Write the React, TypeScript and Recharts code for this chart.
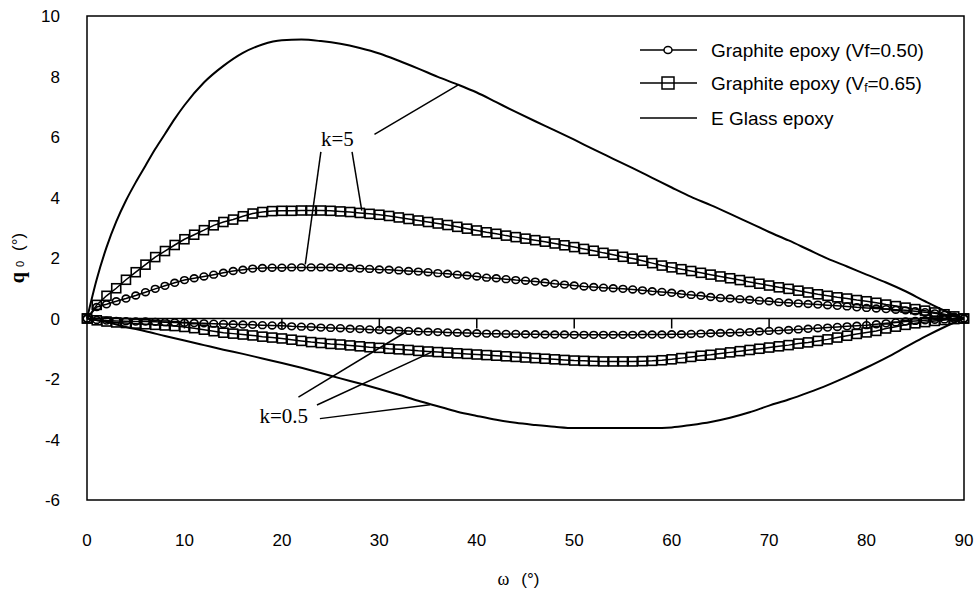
import React from 'react';
import {
  LineChart,
  Line,
  XAxis,
  YAxis,
  ReferenceLine,
  ReferenceArea,
  ReferenceDot,
  Legend
} from 'recharts';

// ω in degrees, one marker per degree for the graphite curves
const omega = Array.from({ length: 91 }, (_, i) => i);

// Graphite epoxy (Vf=0.50), k=5 and k=0.5
const gp50K5 = [
  0.0, 0.38, 0.47, 0.57, 0.66, 0.76, 0.87, 0.98, 1.08, 1.18,
  1.27, 1.33, 1.39, 1.45, 1.51, 1.57, 1.61, 1.65, 1.67, 1.68,
  1.68, 1.69, 1.69, 1.69, 1.69, 1.69, 1.68, 1.67, 1.65, 1.64,
  1.62, 1.61, 1.59, 1.57, 1.55, 1.53, 1.50, 1.48, 1.45, 1.42,
  1.39, 1.35, 1.33, 1.30, 1.27, 1.25, 1.22, 1.19, 1.15, 1.12,
  1.09, 1.06, 1.04, 1.02, 1.00, 0.98, 0.96, 0.93, 0.90, 0.88,
  0.85, 0.81, 0.78, 0.75, 0.71, 0.68, 0.66, 0.64, 0.62, 0.59,
  0.57, 0.54, 0.52, 0.50, 0.48, 0.46, 0.44, 0.42, 0.40, 0.37,
  0.35, 0.33, 0.31, 0.29, 0.27, 0.24, 0.21, 0.17, 0.12, 0.06,
  0.0
];
const gp50K05 = [
  0.0, -0.05, -0.07, -0.08, -0.09, -0.10, -0.10, -0.11, -0.12, -0.13,
  -0.14, -0.15, -0.16, -0.17, -0.18, -0.19, -0.20, -0.21, -0.22, -0.23,
  -0.24, -0.26, -0.27, -0.28, -0.30, -0.31, -0.32, -0.34, -0.35, -0.36,
  -0.38, -0.39, -0.40, -0.41, -0.43, -0.44, -0.45, -0.46, -0.47, -0.48,
  -0.49, -0.50, -0.50, -0.51, -0.51, -0.52, -0.52, -0.53, -0.53, -0.53,
  -0.54, -0.54, -0.54, -0.54, -0.54, -0.54, -0.54, -0.53, -0.53, -0.53,
  -0.52, -0.52, -0.51, -0.50, -0.49, -0.48, -0.47, -0.46, -0.45, -0.43,
  -0.41, -0.40, -0.38, -0.36, -0.34, -0.32, -0.30, -0.28, -0.26, -0.24,
  -0.22, -0.19, -0.16, -0.13, -0.10, -0.08, -0.06, -0.04, -0.03, -0.01,
  0.0
];

// Graphite epoxy (Vf=0.65), k=5 and k=0.5
const gp65K5 = [
  0.0, 0.45, 0.75, 1.00, 1.28, 1.53, 1.78, 2.03, 2.23, 2.43,
  2.62, 2.77, 2.92, 3.08, 3.19, 3.27, 3.38, 3.47, 3.52, 3.55,
  3.56, 3.56, 3.57, 3.57, 3.57, 3.56, 3.54, 3.52, 3.49, 3.46,
  3.43, 3.39, 3.34, 3.29, 3.24, 3.19, 3.14, 3.09, 3.03, 2.97,
  2.91, 2.85, 2.80, 2.74, 2.69, 2.64, 2.59, 2.54, 2.48, 2.42,
  2.36, 2.30, 2.24, 2.17, 2.11, 2.04, 1.98, 1.91, 1.83, 1.75,
  1.69, 1.63, 1.57, 1.51, 1.45, 1.39, 1.33, 1.27, 1.21, 1.15,
  1.09, 1.03, 0.98, 0.92, 0.86, 0.80, 0.75, 0.70, 0.66, 0.61,
  0.57, 0.52, 0.46, 0.41, 0.36, 0.31, 0.26, 0.20, 0.14, 0.07,
  0.0
];
const gp65K05 = [
  0.0, -0.06, -0.10, -0.13, -0.15, -0.17, -0.19, -0.21, -0.23, -0.25,
  -0.28, -0.32, -0.37, -0.42, -0.47, -0.50, -0.53, -0.56, -0.60, -0.63,
  -0.66, -0.70, -0.74, -0.78, -0.81, -0.84, -0.86, -0.89, -0.92, -0.95,
  -0.97, -1.00, -1.02, -1.04, -1.07, -1.09, -1.11, -1.13, -1.15, -1.17,
  -1.19, -1.21, -1.23, -1.25, -1.27, -1.29, -1.31, -1.33, -1.35, -1.37,
  -1.39, -1.40, -1.41, -1.42, -1.42, -1.42, -1.42, -1.41, -1.40, -1.38,
  -1.35, -1.31, -1.27, -1.23, -1.20, -1.16, -1.12, -1.08, -1.04, -1.00,
  -0.96, -0.92, -0.88, -0.83, -0.79, -0.74, -0.69, -0.63, -0.57, -0.51,
  -0.46, -0.41, -0.33, -0.27, -0.21, -0.16, -0.12, -0.08, -0.05, -0.02,
  0.0
];

// E Glass epoxy, plain line
const glassK5X = [0, 1, 2, 3, 4, 5, 6, 7, 8, 9, 10, 12, 14, 16, 18, 20, 22, 24, 26, 28, 30, 32, 34, 36, 38, 40, 42, 44, 46, 48, 50, 52, 54, 56, 58, 60, 62, 64, 66, 68, 70, 72, 74, 76, 78, 80, 82, 84, 86, 88, 90];
const glassK5 = [0, 1.3, 2.35, 3.2, 3.9, 4.5, 5.05, 5.6, 6.1, 6.6, 7.05, 7.8, 8.35, 8.78, 9.06, 9.2, 9.22, 9.17, 9.08, 8.94, 8.76, 8.52, 8.26, 7.99, 7.74, 7.47, 7.15, 6.83, 6.52, 6.22, 5.91, 5.59, 5.28, 4.97, 4.65, 4.33, 4.02, 3.75, 3.46, 3.16, 2.86, 2.58, 2.28, 1.98, 1.72, 1.45, 1.19, 0.9, 0.57, 0.26, 0];
const glassK05X = [0, 2, 4, 6, 8, 10, 12, 14, 16, 18, 20, 22, 24, 26, 28, 30, 32, 34, 36, 38, 40, 42, 44, 46, 48, 50, 52, 54, 56, 58, 60, 62, 64, 66, 68, 70, 72, 74, 76, 78, 80, 82, 84, 86, 88, 90];
const glassK05 = [0, -0.12, -0.28, -0.42, -0.58, -0.73, -0.88, -1.03, -1.17, -1.32, -1.47, -1.63, -1.8, -1.98, -2.15, -2.33, -2.52, -2.72, -2.9, -3.08, -3.22, -3.35, -3.45, -3.52, -3.58, -3.62, -3.62, -3.62, -3.62, -3.62, -3.6, -3.52, -3.42, -3.28, -3.1, -2.88, -2.68, -2.45, -2.2, -1.92, -1.62, -1.3, -0.95, -0.6, -0.28, 0];

const xTicks = [0, 10, 20, 30, 40, 50, 60, 70, 80, 90];
const yTicks = [-6, -4, -2, 0, 2, 4, 6, 8, 10];
const zeroTicks = [10, 20, 30, 40, 50, 60, 70, 80];

// annotation leaders: [label x, label y, curve x, curve y]
const k5Leaders = [
  [29.5, 6.09, 38.1, 7.72],
  [24.0, 5.51, 22.4, 1.79],
  [27.2, 5.51, 28.2, 3.57]
];
const k05Leaders = [
  [21.7, -2.6, 32.8, -0.43],
  [23.6, -2.86, 35.3, -1.12],
  [23.9, -3.31, 35.2, -2.85]
];

const toPoints = (xs: number[], ys: number[]) => xs.map((x, i) => ({ x, y: ys[i] }));

const SANS = 'Liberation Sans, Arial, sans-serif';
const SERIF = 'Liberation Serif, Times New Roman, serif';

const CircleDot = (props: any) => {
  const { cx, cy, index } = props;
  if (cx == null || cy == null) return <g key={index} />;
  return <ellipse key={index} cx={cx} cy={cy} rx={3.8} ry={3.4} fill="none" stroke="#000" strokeWidth={1.6} />;
};

const SquareDot = (props: any) => {
  const { cx, cy, index } = props;
  if (cx == null || cy == null) return <g key={index} />;
  return <rect key={index} x={cx - 4.5} y={cy - 4.5} width={9} height={9} fill="none" stroke="#000" strokeWidth={1.6} />;
};

const LegendBox = () => (
  <svg width={340} height={110}>
    <g stroke="#000" strokeWidth={1.5}>
      <line x1={10} x2={67} y1={20} y2={20} />
      <ellipse cx={38} cy={20} rx={4} ry={3.5} fill="#fff" />
      <line x1={10} x2={67} y1={53} y2={53} />
      <rect x={32} y={47} width={12} height={12} fill="none" />
      <line x1={10} x2={67} y1={88} y2={88} />
    </g>
    <g fontFamily={SANS} fontSize={19} fill="#000">
      <text x={81} y={27}>Graphite epoxy (Vf=0.50)</text>
      <text x={81} y={60}>
        Graphite epoxy (V<tspan fontSize={12} dy={2}>f</tspan><tspan dy={-2}>=0.65)</tspan>
      </text>
      <text x={81} y={95}>E Glass epoxy</text>
    </g>
  </svg>
);

export default function App() {
  const glassUp = toPoints(glassK5X, glassK5);
  const glassDown = toPoints(glassK05X, glassK05);

  return (
    <div style={{ position: 'absolute', left: 0, top: 0, width: 980, height: 594, background: '#fff' }}>
      <LineChart width={980} height={594} margin={{ top: 16, right: 16, bottom: 0, left: 0 }}>
        <XAxis
          type="number"
          dataKey="x"
          domain={[0, 90]}
          ticks={xTicks}
          axisLine={false}
          tickLine={false}
          tickSize={0}
          tickMargin={34}
          height={94}
          tick={{ fontFamily: SANS, fontSize: 17, fill: '#000' }}
          label={{
            content: (p: any) => {
              const vb = p.viewBox;
              return (
                <text x={vb.x + vb.width / 2 - 7} y={vb.y + 85} textAnchor="middle" fill="#000">
                  <tspan fontFamily={SERIF} fontSize={18}>ω</tspan>
                  <tspan fontFamily={SANS} fontSize={17} dx={12}>(°)</tspan>
                </text>
              );
            }
          }}
        />
        <YAxis
          type="number"
          domain={[-6, 10]}
          ticks={yTicks}
          axisLine={false}
          tickLine={false}
          tickSize={0}
          tickMargin={27}
          width={87}
          tick={{ fontFamily: SANS, fontSize: 17, fill: '#000' }}
          label={{
            content: (p: any) => {
              const vb = p.viewBox;
              const cx = vb.x + 24;
              const cy = vb.y + vb.height / 2;
              return (
                <text x={cx} y={cy} transform={`rotate(-90 ${cx} ${cy})`} textAnchor="middle" fill="#000">
                  <tspan fontFamily={SERIF} fontWeight="bold" fontSize={20}>q</tspan>
                  <tspan fontFamily={SANS} fontSize={11} dx={5}>0</tspan>
                  <tspan fontFamily={SANS} fontSize={17} dx={10}>(°)</tspan>
                </text>
              );
            }
          }}
        />
        <ReferenceArea x1={0} x2={90} y1={-6} y2={10} fill="none" stroke="#000" strokeWidth={1.5} />
        <ReferenceLine y={0} stroke="#000" strokeWidth={1.5} />
        {zeroTicks.map((t) => (
          <ReferenceLine key={t} segment={[{ x: t, y: 0 }, { x: t, y: -0.33 }]} stroke="#000" strokeWidth={1.5} />
        ))}

        <Line data={glassUp} dataKey="y" type="monotone" stroke="#000" strokeWidth={2} dot={false} activeDot={false} isAnimationActive={false} legendType="none" />
        <Line data={glassDown} dataKey="y" type="monotone" stroke="#000" strokeWidth={2} dot={false} activeDot={false} isAnimationActive={false} legendType="none" />
        <Line data={toPoints(omega, gp50K5)} dataKey="y" type="linear" stroke="#000" strokeWidth={1.5} dot={CircleDot} activeDot={false} isAnimationActive={false} legendType="none" />
        <Line data={toPoints(omega, gp50K05)} dataKey="y" type="linear" stroke="#000" strokeWidth={1.5} dot={CircleDot} activeDot={false} isAnimationActive={false} legendType="none" />
        <Line data={toPoints(omega, gp65K5)} dataKey="y" type="linear" stroke="#000" strokeWidth={1.5} dot={SquareDot} activeDot={false} isAnimationActive={false} legendType="none" />
        <Line data={toPoints(omega, gp65K05)} dataKey="y" type="linear" stroke="#000" strokeWidth={1.5} dot={SquareDot} activeDot={false} isAnimationActive={false} legendType="none" />

        {k5Leaders.concat(k05Leaders).map((s, i) => (
          <ReferenceLine key={'l' + i} segment={[{ x: s[0], y: s[1] }, { x: s[2], y: s[3] }]} stroke="#000" strokeWidth={1.5} />
        ))}
        <ReferenceDot x={25.7} y={5.94} r={1} fill="none" stroke="none"
          label={{ value: 'k=5', position: 'center', fontFamily: SERIF, fontSize: 21, fill: '#000' }} />
        <ReferenceDot x={20.2} y={-3.22} r={1} fill="none" stroke="none"
          label={{ value: 'k=0.5', position: 'center', fontFamily: SERIF, fontSize: 21, fill: '#000' }} />

        <Legend
          layout="vertical"
          align="center"
          verticalAlign="middle"
          content={() => <LegendBox />}
          wrapperStyle={{ position: 'absolute', left: 630, top: 30, width: 340, height: 110 }}
        />
      </LineChart>
    </div>
  );
}
